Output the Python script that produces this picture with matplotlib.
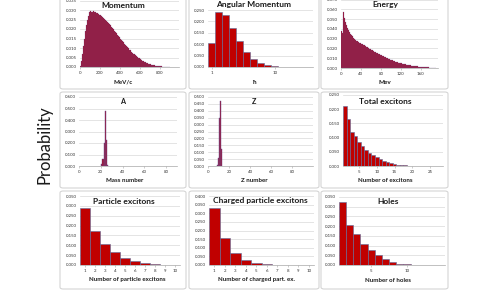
import numpy as np
import matplotlib
matplotlib.use('Agg')
import matplotlib.pyplot as plt
from matplotlib.patches import FancyBboxPatch

plt.rcParams['font.family'] = ['Lato', 'DejaVu Sans']

# ---- data ----
# momentum, 10 MeV/c bins starting at 0
momentum = [0.0005, 0.003, 0.007, 0.011, 0.015, 0.019, 0.022, 0.025, 0.027, 0.029,
            0.0295, 0.029, 0.0288, 0.0295, 0.029, 0.0288, 0.0285, 0.0282, 0.028, 0.0276,
            0.0272, 0.0268, 0.0264, 0.026, 0.0255, 0.025, 0.0244, 0.0238, 0.0232, 0.0226,
            0.022, 0.0213, 0.0206, 0.0199, 0.0192, 0.0185, 0.0178, 0.0171, 0.0164, 0.0157,
            0.015, 0.0143, 0.0136, 0.0129, 0.0122, 0.0116, 0.011, 0.0104, 0.0098, 0.0092,
            0.0087, 0.0081, 0.0076, 0.0071, 0.0066, 0.0061, 0.0057, 0.0053, 0.0049, 0.0045,
            0.0041, 0.0038, 0.0034, 0.0031, 0.0028, 0.0025, 0.0022, 0.002, 0.0018, 0.0016,
            0.0014, 0.0012, 0.0011, 0.0009, 0.0008, 0.0007, 0.0006, 0.0005, 0.0004, 0.0004,
            0.0003, 0.0003, 0.0002, 0.0002, 0.0001, 0.0001, 0.0001, 0.00005, 0.00005, 0.00003]
momentum_bin = 10

# angular momentum, equal bins on log axis
angular = [0.105, 0.240, 0.228, 0.172, 0.113, 0.067, 0.036, 0.017, 0.008, 0.004, 0.002, 0.001]

# energy, 2 MeV bins starting at 0
energy = [0.038, 0.036, 0.057, 0.051, 0.047, 0.044, 0.041, 0.039, 0.037, 0.035,
          0.034, 0.033, 0.031, 0.030, 0.029, 0.028, 0.0275, 0.027, 0.026, 0.0255,
          0.025, 0.0243, 0.0236, 0.023, 0.0223, 0.0217, 0.021, 0.0204, 0.0198, 0.0192,
          0.0186, 0.018, 0.0174, 0.0168, 0.0162, 0.0156, 0.015, 0.0145, 0.014, 0.0135,
          0.013, 0.0124, 0.0119, 0.0114, 0.0109, 0.0104, 0.0099, 0.0094, 0.009, 0.0086,
          0.0082, 0.0078, 0.0074, 0.007, 0.0066, 0.0062, 0.0059, 0.0056, 0.0053, 0.005,
          0.0047, 0.0044, 0.0041, 0.0038, 0.0036, 0.0034, 0.0032, 0.003, 0.0028, 0.0026,
          0.0024, 0.0022, 0.0021, 0.002, 0.0018, 0.0017, 0.0016, 0.0015, 0.0014, 0.0013,
          0.0012, 0.0011, 0.001, 0.0009, 0.0008, 0.0007, 0.0007, 0.0006, 0.0005, 0.0005,
          0.0004, 0.0004, 0.0003, 0.0003, 0.0002]
energy_bin = 2

mass_a = [21, 22, 23, 24, 25, 26]
mass_p = [0.02, 0.06, 0.20, 0.48, 0.23, 0.01]

charge_z = [9, 10, 11, 12, 13]
charge_p = [0.01, 0.06, 0.35, 0.47, 0.12]

total_exc = [0.210, 0.165, 0.120, 0.105, 0.083, 0.070, 0.056, 0.047, 0.038, 0.030,
             0.023, 0.017, 0.013, 0.009, 0.006, 0.004, 0.003, 0.002, 0.0015, 0.001,
             0.0007, 0.0005, 0.0003, 0.0002, 0.0001]

particle_exc = [0.290, 0.172, 0.108, 0.067, 0.038, 0.020, 0.010, 0.005, 0.002, 0.001]
charged_exc = [0.333, 0.155, 0.070, 0.028, 0.010, 0.003, 0.001, 0.0005, 0.0002, 0.0001]
holes = [0.325, 0.208, 0.157, 0.108, 0.077, 0.050, 0.030, 0.015, 0.007, 0.003, 0.001]

W, H = 499, 295
fig = plt.figure(figsize=(W / 100, H / 100), dpi=100)

RED = '#C00000'
EDGE = '#5B6E9E'
DENSE = '#A3102E'
DENSE_EDGE = '#6A4A8C'
GRID = '#D9D9D9'


def px_box(l, t, r, b):
    return [l / W, 1 - b / H, (r - l) / W, (b - t) / H]


def frame(l, t, r, b):
    p = FancyBboxPatch((l / W, 1 - b / H), (r - l) / W, (b - t) / H,
                       boxstyle='round,pad=0,rounding_size=0.006',
                       transform=fig.transFigure, fill=False,
                       edgecolor='#CFCFCF', linewidth=0.7)
    fig.patches.append(p)


def style(ax, ymax, ystep):
    ax.set_ylim(0, ymax)
    ax.set_yticks(np.arange(0, ymax + ystep / 2, ystep))
    ax.yaxis.set_major_formatter(matplotlib.ticker.FormatStrFormatter('%.3f'))
    ax.grid(axis='y', color=GRID, linewidth=0.5)
    ax.set_axisbelow(True)
    for s in ['top', 'right', 'left']:
        ax.spines[s].set_visible(False)
    ax.spines['bottom'].set_color('#A6A6A6')
    ax.spines['bottom'].set_linewidth(0.5)
    ax.tick_params(axis='y', length=0, pad=2, labelsize=3.2, labelcolor='#333333')
    ax.tick_params(axis='x', length=1.5, width=0.4, color='#A6A6A6', pad=1.5,
                   labelsize=3.2, labelcolor='#333333')
    ax.tick_params(axis='x', which='minor', length=0)


def label(x, y, s, size, weight='bold'):
    fig.text(x / W, 1 - y / H, s, ha='center', va='center', fontsize=size,
             fontweight=weight, color='#1A1A1A')


cols = [(60, 186), (189, 319), (321, 448)]
rows = [(-5, 89), (92, 188), (191, 289)]
for (cl, cr) in cols:
    for (rt, rb) in rows:
        frame(cl, rt, cr, rb)

# ---- row 1 ----
ax = fig.add_axes(px_box(80, 0.5, 179, 67))
x = np.arange(len(momentum)) * momentum_bin
ax.bar(x, momentum, width=momentum_bin, align='edge', color=DENSE,
       edgecolor=DENSE_EDGE, linewidth=0.15)
ax.set_xlim(0, 990)
ax.set_xticks([0, 200, 400, 600, 800])
style(ax, 0.035, 0.005)
label(123, 5, 'Momentum', 6.0)
label(123, 82, 'MeV/c', 4.4)

ax = fig.add_axes(px_box(208, -1.4, 313, 67))
edges = np.logspace(-0.063, -0.063 + 0.111 * len(angular), len(angular) + 1)
ax.bar(edges[:-1], angular, width=np.diff(edges), align='edge', color=RED,
       edgecolor=EDGE, linewidth=0.4)
ax.set_xscale('log')
ax.set_xlim(10 ** -0.063, 40)
ax.set_xticks([1, 10])
ax.set_xticklabels(['1', '10'])
style(ax, 0.30, 0.05)
label(254, 4.5, 'Angular Momentum', 6.0)
label(254, 82, 'ħ', 4.6)

ax = fig.add_axes(px_box(341, -0.5, 438, 68))
x = np.arange(len(energy)) * energy_bin
ax.bar(x, energy, width=energy_bin, align='edge', color=DENSE,
       edgecolor=DENSE_EDGE, linewidth=0.15)
ax.set_xlim(0, 195)
ax.set_xticks([0, 40, 80, 120, 160])
style(ax, 0.07, 0.01)
label(385, 5, 'Energy', 6.0)
label(385, 82, 'Mev', 4.6)

# ---- row 2 ----
ax = fig.add_axes(px_box(79, 97, 177, 166))
ax.bar(mass_a, mass_p, width=1, color=DENSE, edgecolor=DENSE_EDGE, linewidth=0.3)
ax.set_xlim(0, 90)
ax.set_xticks([0, 20, 40, 60, 80])
style(ax, 0.6, 0.1)
label(123, 102, 'A', 5.2)
label(125, 181, 'Mass number', 4.4)

ax = fig.add_axes(px_box(208, 97, 313, 166))
ax.bar(charge_z, charge_p, width=1, color=DENSE, edgecolor=DENSE_EDGE, linewidth=0.3)
ax.set_xlim(0, 100)
ax.set_xticks([0, 20, 40, 60, 80])
style(ax, 0.5, 0.05)
label(254, 102, 'Z', 5.2)
label(254, 181, 'Z number', 4.4)

ax = fig.add_axes(px_box(343, 95, 443, 166))
ax.bar(np.arange(1, len(total_exc) + 1), total_exc, width=1, color=RED,
       edgecolor=EDGE, linewidth=0.4)
ax.set_xlim(0.5, 28.6)
ax.set_xticks([5, 10, 15, 20, 25])
style(ax, 0.25, 0.05)
label(385, 102, 'Total excitons', 6.0)
label(385, 181, 'Number of excitons', 4.4)

# ---- row 3 ----
ax = fig.add_axes(px_box(80, 196, 180, 265))
n = np.arange(1, len(particle_exc) + 1)
ax.bar(n, particle_exc, width=1, color=RED, edgecolor=EDGE, linewidth=0.4)
ax.set_xlim(0.5, 10.5)
ax.set_xticks(n)
style(ax, 0.35, 0.05)
label(124, 201, 'Particle excitons', 6.0)
label(127, 280, 'Number of particle excitons', 4.4)

ax = fig.add_axes(px_box(209, 196, 314, 265))
n = np.arange(1, len(charged_exc) + 1)
ax.bar(n, charged_exc, width=1, color=RED, edgecolor=EDGE, linewidth=0.4)
ax.set_xlim(0.5, 10.5)
ax.set_xticks(n)
style(ax, 0.40, 0.05)
label(260, 201, 'Charged particle excitons', 6.0)
label(257, 280, 'Number of charged part. ex.', 4.4)

ax = fig.add_axes(px_box(339, 197, 445, 265))
n = np.arange(1, len(holes) + 1)
ax.bar(n, holes, width=1, color=RED, edgecolor=EDGE, linewidth=0.4)
ax.set_xlim(0.5, 15.3)
ax.set_xticks([5, 10])
style(ax, 0.35, 0.05)
label(388, 202, 'Holes', 6.0)
label(388, 280, 'Number of holes', 4.4)

fig.text(45 / W, 1 - 145 / H, 'Probability', rotation=90, ha='center', va='center',
         fontsize=12, color='#1A1A1A')

fig.savefig('out.png', dpi=100)
